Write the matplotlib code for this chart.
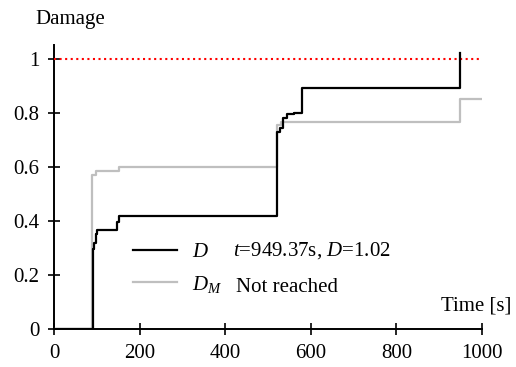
import matplotlib
matplotlib.use("Agg")
import matplotlib.pyplot as plt
from matplotlib.lines import Line2D

plt.rcParams["font.family"] = ["Liberation Serif", "DejaVu Serif"]
plt.rcParams["mathtext.fontset"] = "custom"
plt.rcParams["mathtext.rm"] = "Liberation Serif"
plt.rcParams["mathtext.it"] = "Liberation Serif:italic"
plt.rcParams["font.size"] = 15

# Cumulative damage D (step history), ends at failure time
d_time = [0, 85, 91, 93, 97, 100, 147, 152, 520, 528, 535, 545, 560, 578, 949.37]
d_value = [0, 0, 0.296, 0.318, 0.35, 0.367, 0.397, 0.418, 0.73, 0.745, 0.78, 0.795, 0.80, 0.89, 1.02]

# Damage D_M (step history), threshold not reached
dm_time = [0, 87, 97, 150, 520, 530, 949.37, 1000]
dm_value = [0, 0.57, 0.585, 0.60, 0.755, 0.764, 0.852, 0.852]

threshold = 1.0
x_ticks = [0, 200, 400, 600, 800, 1000]
y_ticks = [0, 0.2, 0.4, 0.6, 0.8, 1.0]
y_tick_labels = ["0", "0.2", "0.4", "0.6", "0.8", "1"]

fs = 15
fig = plt.figure(figsize=(5.16, 3.67), dpi=100)
ax = fig.add_axes([0.1056, 0.1035, 0.934 - 0.1056, 0.877 - 0.1035])

ax.plot([0, 1000], [threshold, threshold], color="red", lw=1.5,
        linestyle=(0, (1, 1.67)), zorder=2)
line_dm, = ax.step(dm_time, dm_value, where="post", color="#bfbfbf", lw=1.6, zorder=3)
line_d, = ax.step(d_time, d_value, where="post", color="black", lw=1.6, zorder=4)

ax.set_xlim(0, 1000)
ax.set_ylim(0, 1.05)
ax.set_xticks(x_ticks)
ax.set_xticklabels([str(v) for v in x_ticks])
ax.set_yticks(y_ticks)
ax.set_yticklabels(y_tick_labels)

for side in ("top", "right"):
    ax.spines[side].set_visible(False)
for side in ("left", "bottom"):
    ax.spines[side].set_linewidth(1.4)
    ax.spines[side].set_zorder(1)
ax.tick_params(direction="inout", length=8, width=1.2, labelsize=fs, pad=7)

handles = [Line2D([], [], color="black", lw=1.6), Line2D([], [], color="#bfbfbf", lw=1.6)]
ax.legend(handles, [r"$D$", r"$D_M$"], loc="center left",
          bbox_to_anchor=(0.1836, 0.213), frameon=False, fontsize=fs,
          handlelength=2.1, handletextpad=0.75, labelspacing=0.55,
          borderpad=0, borderaxespad=0)
ax.text(0.4175, 0.278, r"$t$=949.37s, $D$=1.02", transform=ax.transAxes,
        va="center", ha="left", fontsize=fs)
ax.text(0.4245, 0.148, "Not reached", transform=ax.transAxes,
        va="center", ha="left", fontsize=fs)

fig.text(0.992, 0.166, "Time [s]", ha="right", va="center", fontsize=fs)
fig.text(0.1357, 0.972, "Damage", ha="center", va="top", fontsize=fs)

fig.savefig("out.png", dpi=100)
